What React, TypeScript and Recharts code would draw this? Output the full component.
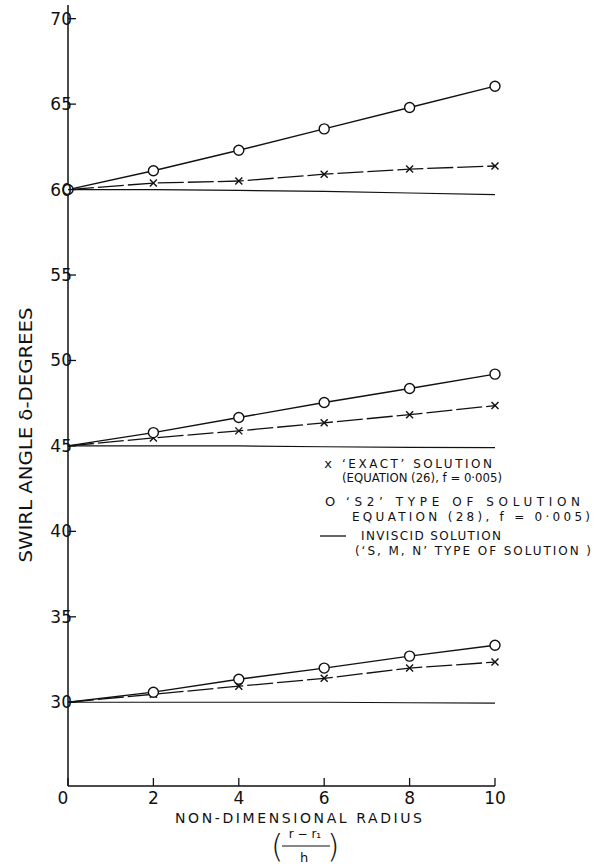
import React from 'react'
import { LineChart, Line, XAxis, YAxis } from 'recharts'

// values, three starting angles (60, 45, 30 degrees)
const radius = [0, 2, 4, 6, 8, 10]
const s2At60 = [60, 61.1, 62.3, 63.55, 64.8, 66.05]
const exactAt60 = [60, 60.38, 60.5, 60.9, 61.2, 61.38]
const inviscidAt60 = [60, 60, 59.95, 59.9, 59.8, 59.7]
const s2At45 = [45, 45.78, 46.66, 47.54, 48.36, 49.2]
const exactAt45 = [45, 45.47, 45.88, 46.35, 46.83, 47.36]
const inviscidAt45 = [45, 45, 45, 44.95, 44.92, 44.9]
const s2At30 = [30, 30.59, 31.35, 32.0, 32.7, 33.34]
const exactAt30 = [30, 30.47, 30.94, 31.4, 32.0, 32.35]
const inviscidAt30 = [30, 30, 30, 30, 29.97, 29.95]

const xTicks = [0, 2, 4, 6, 8, 10]
const yTicks = [30, 35, 40, 45, 50, 55, 60, 65, 70]

const data = radius.map((r, i) => ({
  r,
  s2_60: s2At60[i], ex_60: exactAt60[i], inv_60: inviscidAt60[i],
  s2_45: s2At45[i], ex_45: exactAt45[i], inv_45: inviscidAt45[i],
  s2_30: s2At30[i], ex_30: exactAt30[i], inv_30: inviscidAt30[i],
}))

const FONT = '"DejaVu Sans", sans-serif'
const INK = '#111'

const circleDot = (showFirst: boolean) => (p: any) => {
  if (p.index === 0 && !showFirst) return <g key={p.index} />
  return <circle key={p.index} cx={p.cx} cy={p.cy} r={5} fill="#fff" stroke={INK} strokeWidth={1.4} />
}

const crossDot = (p: any) => {
  if (p.index === 0) return <g key={p.index} />
  const s = 3.5
  return (
    <g key={p.index} stroke={INK} strokeWidth={1.4}>
      <line x1={p.cx - s} y1={p.cy - s} x2={p.cx + s} y2={p.cy + s} />
      <line x1={p.cx - s} y1={p.cy + s} x2={p.cx + s} y2={p.cy - s} />
    </g>
  )
}

const YTick = ({ x, y, payload }: any) => (
  <g>
    <line x1={x} y1={y} x2={x + 8} y2={y} stroke={INK} strokeWidth={1.3} />
    <text x={x + 4} y={y + 6} textAnchor="end" fontSize={17} fontFamily={FONT} fill={INK}>
      {payload.value}
    </text>
  </g>
)

const XTick = ({ x, y, payload }: any) => (
  <g>
    <line x1={x} y1={y} x2={x} y2={y - 8} stroke={INK} strokeWidth={1.3} />
    <text x={payload.value === 0 ? x - 5 : x} y={y + 18} textAnchor="middle" fontSize={17} fontFamily={FONT} fill={INK}>
      {payload.value}
    </text>
  </g>
)

export default function App() {
  const lbl = { fontFamily: FONT, fill: INK, fontSize: 12 }
  return (
    <div style={{ position: 'absolute', left: 0, top: 0, width: 595, height: 866, background: '#fff' }}>
      <LineChart width={595} height={866} data={data} margin={{ top: 5, right: 100, bottom: 0, left: 0 }}>
        <XAxis dataKey="r" type="number" domain={[0, 10]} ticks={xTicks} height={80}
          tickSize={0} tickMargin={0} tick={<XTick />} axisLine={{ stroke: INK, strokeWidth: 1.5 }} />
        <YAxis type="number" domain={[25.1, 70.8]} ticks={yTicks} width={68} allowDataOverflow
          tickSize={0} tickMargin={0} tick={<YTick />} axisLine={{ stroke: INK, strokeWidth: 1.5 }} />

        <Line dataKey="inv_60" stroke={INK} strokeWidth={1.2} dot={false} isAnimationActive={false} />
        <Line dataKey="ex_60" stroke={INK} strokeWidth={1.3} strokeDasharray="26 4" dot={crossDot} isAnimationActive={false} />
        <Line dataKey="s2_60" stroke={INK} strokeWidth={1.4} dot={circleDot(true)} isAnimationActive={false} />

        <Line dataKey="inv_45" stroke={INK} strokeWidth={1.2} dot={false} isAnimationActive={false} />
        <Line dataKey="ex_45" stroke={INK} strokeWidth={1.3} strokeDasharray="26 4" dot={crossDot} isAnimationActive={false} />
        <Line dataKey="s2_45" stroke={INK} strokeWidth={1.4} dot={circleDot(false)} isAnimationActive={false} />

        <Line dataKey="inv_30" stroke={INK} strokeWidth={1.2} dot={false} isAnimationActive={false} />
        <Line dataKey="ex_30" stroke={INK} strokeWidth={1.3} strokeDasharray="26 4" dot={crossDot} isAnimationActive={false} />
        <Line dataKey="s2_30" stroke={INK} strokeWidth={1.4} dot={circleDot(false)} isAnimationActive={false} />
      </LineChart>

      <svg width={595} height={866} style={{ position: 'absolute', left: 0, top: 0, pointerEvents: 'none' }}>
        {/* axis titles */}
        <text transform="translate(32,435) rotate(-90)" textAnchor="middle" fontSize={18} fontFamily={FONT}
          fill={INK} textLength={255} lengthAdjust="spacingAndGlyphs">SWIRL ANGLE δ-DEGREES</text>
        <text x={175} y={823} {...lbl} fontSize={14} textLength={247} lengthAdjust="spacing">NON-DIMENSIONAL  RADIUS</text>
        <text x={271} y={857} {...lbl} fontSize={32} fontWeight={300}>(</text>
        <text x={327} y={857} {...lbl} fontSize={32} fontWeight={300}>)</text>
        <text x={305} y={838} {...lbl} fontSize={12} textAnchor="middle">r − r₁</text>
        <line x1={282} y1={846} x2={330} y2={846} stroke={INK} strokeWidth={1.2} />
        <text x={304} y={862} {...lbl} fontSize={13} textAnchor="middle">h</text>

        {/* legend */}
        <text x={328} y={468} {...lbl} fontSize={13} textAnchor="middle">x</text>
        <text x={342} y={468} {...lbl} textLength={150} lengthAdjust="spacing">‘EXACT’  SOLUTION</text>
        <text x={342} y={482} {...lbl} textLength={160} lengthAdjust="spacingAndGlyphs">(EQUATION (26), f = 0·005)</text>

        <text x={330} y={506} {...lbl} fontSize={13} textAnchor="middle">O</text>
        <text x={346} y={506} {...lbl} textLength={234} lengthAdjust="spacing">‘S2’  TYPE OF SOLUTION</text>
        <text x={352} y={521} {...lbl} textLength={238} lengthAdjust="spacing">EQUATION (28), f = 0·005)</text>

        <line x1={320} y1={536} x2={346} y2={536} stroke={INK} strokeWidth={1.3} />
        <text x={361} y={540} {...lbl} textLength={140} lengthAdjust="spacing">INVISCID SOLUTION</text>
        <text x={355} y={555} {...lbl} textLength={236} lengthAdjust="spacing">(‘S, M, N’ TYPE OF SOLUTION )</text>
      </svg>
    </div>
  )
}
